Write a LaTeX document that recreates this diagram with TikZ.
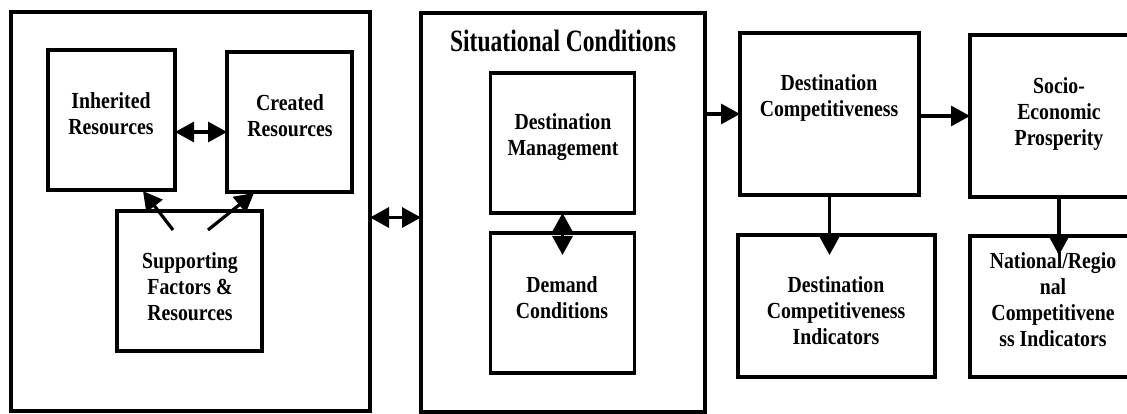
\documentclass[tikz,border=0pt]{standalone}
\usepackage{fontspec}
\newfontfamily\diagfont{Liberation Serif}[FakeStretch=0.86]
\newfontfamily\headfont{Liberation Serif}[FakeStretch=0.76]
\usetikzlibrary{arrows.meta,calc}
\begin{document}
\begin{tikzpicture}[x=1pt,y=-1pt,
  frame/.style={draw=black, line width=3.2pt, fill=white, inner sep=0pt, outer sep=0pt},
  boxtext/.style={font=\diagfont\bfseries\fontsize{23}{26}\selectfont, align=center, inner sep=0pt},
  headtext/.style={font=\headfont\bfseries\fontsize{31}{36}\selectfont, inner sep=0pt},
  link/.style={line width=3.2pt, -{Triangle[length=19pt,width=20pt]}},
  twoway/.style={line width=3.2pt, {Triangle[length=19pt,width=20pt]}-{Triangle[length=19pt,width=20pt]}}]

\useasboundingbox (0,0) rectangle (1127,414);
\clip (0,0) rectangle (1127,414);

% resources group
\node[frame, minimum width=359pt, minimum height=399pt] (outerA) at (190.5,211.5) {};
\node[frame, minimum width=127pt, minimum height=140pt] (inh) at (111.5,120) {};
\node[frame, minimum width=125pt, minimum height=140pt] (cre) at (289.5,122) {};
\node[frame, minimum width=145pt, minimum height=140pt] (sup) at (189.5,281) {};
\node[boxtext] (inhT) at (111,114) {Inherited\\Resources};
\node[boxtext] (creT) at (290,116) {Created\\Resources};
\node[boxtext] (supT) at (190,287) {Supporting\\Factors \&\\Resources};

% situational conditions group
\node[frame, minimum width=284pt, minimum height=399pt] (outerB) at (563,212.5) {};
\node[headtext, anchor=base] (sitT) at (563,52) {Situational Conditions};
\node[frame, minimum width=144pt, minimum height=140pt] (dm) at (562.5,143) {};
\node[frame, minimum width=144pt, minimum height=140pt] (dem) at (562.5,303) {};
\node[boxtext] (dmT) at (563,137) {Destination\\Management};
\node[boxtext] (demT) at (562,298) {Demand\\Conditions};

% outcomes
\node[frame, minimum width=179pt, minimum height=162pt] (dc) at (829.5,114) {};
\node[frame, minimum width=178pt, minimum height=162pt] (soc) at (1059,116) {};
\node[frame, minimum width=197pt, minimum height=142pt] (dci) at (836.5,306) {};
\node[frame, minimum width=166pt, minimum height=141pt] (nrci) at (1053,306.5) {};
\node[boxtext] (dcT) at (829,98) {Destination\\Competitiveness};
\node[boxtext] (socT) at (1059,114) {Socio-\\Economic\\Prosperity};
\node[boxtext] (dciT) at (836,311) {Destination\\Competitiveness\\Indicators};
\node[boxtext] (nrciT) at (1053,300) {National/Regio\\nal\\Competitivene\\ss Indicators};

% connector end points
\coordinate (s1) at (173,230);
\coordinate (i1) at (143,191);
\coordinate (s2) at (208,230);
\coordinate (c1) at (254,193);
\coordinate (demTip) at ($(dem.north)+(0,22)$);
\coordinate (dciTip) at (829.5,255);
\coordinate (nrciTip) at (1059,255);

% connectors
\draw[twoway] ([yshift=-12pt]inh.east) -- ([yshift=-10pt]cre.west);
\draw[link] (s1) -- (i1);
\draw[link] (s2) -- (c1);
\draw[twoway] ([yshift=-6pt]outerA.east) -- ([yshift=-5pt]outerB.west);
\draw[link] (outerB.east |- dc.west) -- (dc.west);
\draw[link] (dc.east |- soc.west) -- (soc.west);
\draw[twoway] (dm.south) -- (demTip);
\draw[link] (dc.south) -- (dciTip);
\draw[link] (soc.south) -- (nrciTip);
\end{tikzpicture}
\end{document}
